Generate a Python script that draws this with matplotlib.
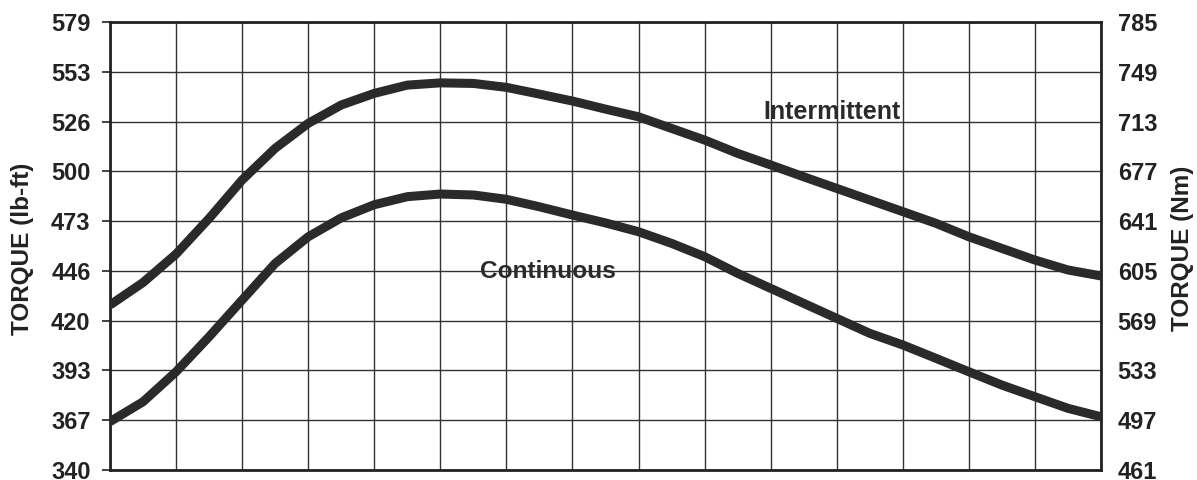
import matplotlib.pyplot as plt
import numpy as np

# speed steps in half-grid increments (the original x axis has no labels)
steps = [i / 2 for i in range(31)]
intermittent = [428, 440, 455.2, 474.2, 494.7, 511.6, 524.9, 534.7, 540.9, 545.3,
                546.5, 546.2, 544.1, 540.5, 536.8, 532.5, 528.4, 522.2, 516, 508.9,
                502.7, 496.4, 490.2, 484, 477.8, 471.6, 464.4, 458.2, 452, 446.7, 443.5]
continuous = [365.8, 376.4, 392.4, 411.1, 430.7, 450.2, 464.4, 474.5, 481.5, 485.8,
              487.2, 486.7, 484.4, 480.4, 476, 471.8, 467.1, 460.9, 453.8, 444.9,
              436.9, 428.9, 420.9, 412.9, 406.7, 399.6, 392.4, 385.3, 379.1, 372.9, 368.4]

lbft_labels = ['340', '367', '393', '420', '446', '473', '500', '526', '553', '579']
nm_labels = ['461', '497', '533', '569', '605', '641', '677', '713', '749', '785']

plt.rcParams['font.family'] = ['Liberation Sans', 'DejaVu Sans']
plt.rcParams['font.weight'] = 'bold'

fig = plt.figure(figsize=(11.97, 4.8), dpi=100)
ax = fig.add_axes([0.0919, 0.0208, 0.8279, 0.9335])

ink = '#2a2a2a'
ax.plot(steps, intermittent, color=ink, lw=6.5, solid_capstyle='butt',
        solid_joinstyle='round', zorder=3)
ax.plot(steps, continuous, color=ink, lw=6.5, solid_capstyle='butt',
        solid_joinstyle='round', zorder=3)

ax.set_xlim(0, 15)
ax.set_ylim(340, 579)
ax.set_xticks(range(16))
ax.set_xticklabels([])
ax.tick_params(axis='x', length=0)
ax.set_yticks(np.linspace(340, 579, len(lbft_labels)))
ax.set_yticklabels(lbft_labels, fontsize=17, fontweight='bold', color='#222')
ax.tick_params(axis='y', length=5.5, width=1.2, color='#222', pad=8.5)
ax.grid(True, color='#333', lw=1.0)
for s in ax.spines.values():
    s.set_linewidth(2)
    s.set_color('#222')
ax.set_ylabel('TORQUE (lb-ft)', fontsize=17.5, fontweight='bold', color='#222')
ax.yaxis.set_label_coords(-0.077, 0.494)

ax2 = ax.twinx()
ax2.set_ylim(461, 785)
ax2.set_yticks(np.linspace(461, 785, len(nm_labels)))
ax2.set_yticklabels(nm_labels, fontsize=17, fontweight='bold', color='#222')
ax2.tick_params(axis='y', length=0, pad=12)
ax2.set_ylabel('TORQUE (Nm)', fontsize=17.5, fontweight='bold', color='#222')
ax2.yaxis.set_label_coords(1.071, 0.494)
for s in ax2.spines.values():
    s.set_visible(False)

ax.text(10.93, 531.1, 'Intermittent', fontsize=18, fontweight='bold',
        ha='center', va='center', color=ink, zorder=4)
ax.text(6.63, 445.8, 'Continuous', fontsize=17.6, fontweight='bold',
        ha='center', va='center', color=ink, zorder=4)

fig.savefig('out.png', dpi=100)
